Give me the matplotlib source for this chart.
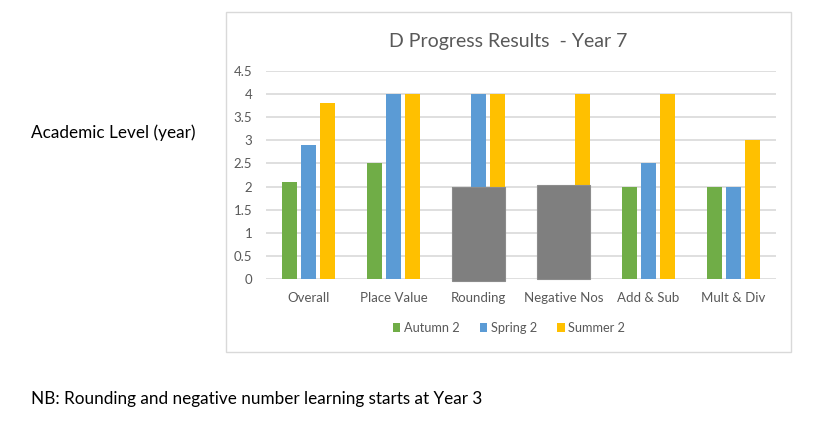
import matplotlib
matplotlib.use("Agg")
import matplotlib.pyplot as plt
from matplotlib.patches import Rectangle
import numpy as np

plt.rcParams['font.family'] = ['Lato', 'DejaVu Sans']

categories = ["Overall", "Place Value", "Rounding", "Negative Nos", "Add & Sub", "Mult & Div"]
series_names = ["Autumn 2", "Spring 2", "Summer 2"]
autumn2 = [2.1, 2.5, 2.0, 2.0, 2.0, 2.0]
spring2 = [2.9, 4.0, 4.0, 2.0, 2.5, 2.0]
summer2 = [3.8, 4.0, 4.0, 4.0, 4.0, 3.0]
yticks = [0, 0.5, 1, 1.5, 2, 2.5, 3, 3.5, 4, 4.5]
ytick_labels = ["0", "0.5", "1", "1.5", "2", "2.5", "3", "3.5", "4", "4.5"]
# grey overlay boxes (category index, bottom value, top value)
overlays = [(2, -0.05, 1.98), (3, 0.0, 2.03)]

colors = ["#70AD47", "#5B9BD5", "#FFC000"]
text_color = "#595959"

W, H = 814, 430
fig = plt.figure(figsize=(W / 100, H / 100), dpi=100)

# chart border
fig.patches.append(Rectangle((226 / W, 1 - 352 / H), (791 - 226) / W, (352 - 12) / H,
                             transform=fig.transFigure, fill=False,
                             edgecolor="#D9D9D9", linewidth=1.0))

ax = fig.add_axes([266 / W, 1 - 279 / H, (776 - 266) / W, (279 - 71) / H])
x = np.arange(len(categories))
bw = 0.18
off = 0.225
for i, (vals, c, name) in enumerate(zip([autumn2, spring2, summer2], colors, series_names)):
    ax.bar(x + (i - 1) * off, vals, width=bw, color=c, label=name, zorder=3)

for idx, y0, y1 in overlays:
    left = idx - off - bw / 2
    right = idx + off + bw / 2
    ax.add_patch(Rectangle((left, y0), right - left, y1 - y0, facecolor="#7F7F7F",
                           edgecolor="#8C8C8C", linewidth=0.8, zorder=5, clip_on=False))

ax.set_xlim(-0.5, len(categories) - 0.5)
ax.set_ylim(0, 4.5)
ax.set_yticks(yticks)
ax.set_yticklabels(ytick_labels)
ax.set_xticks(x)
ax.set_xticklabels(categories)
ax.tick_params(axis='both', length=0, colors=text_color, labelsize=9.5)
ax.tick_params(axis='y', pad=10)
ax.tick_params(axis='x', pad=9)
ax.grid(axis='y', color="#D9D9D9", linewidth=1.2, zorder=0)
for s in ax.spines.values():
    s.set_visible(False)

fig.text(508 / W, 1 - 41 / H, "D Progress Results  - Year 7", ha='center', va='center',
         fontsize=14, color=text_color)

handles, labels = ax.get_legend_handles_labels()
fig.legend(handles, labels, loc='center', bbox_to_anchor=(509 / W, 1 - 328 / H), ncol=3,
           frameon=False, fontsize=9.2, handlelength=0.6, handleheight=0.6,
           handletextpad=0.25, columnspacing=1.6, labelcolor=text_color)

fig.text(31 / W, 1 - 133 / H, "Academic Level (year)", ha='left', va='center',
         fontsize=12.3, color="black")
fig.text(31 / W, 1 - 399 / H, "NB: Rounding and negative number learning starts at Year 3",
         ha='left', va='center', fontsize=12.3, color="black")

fig.savefig("out.png", dpi=100)
